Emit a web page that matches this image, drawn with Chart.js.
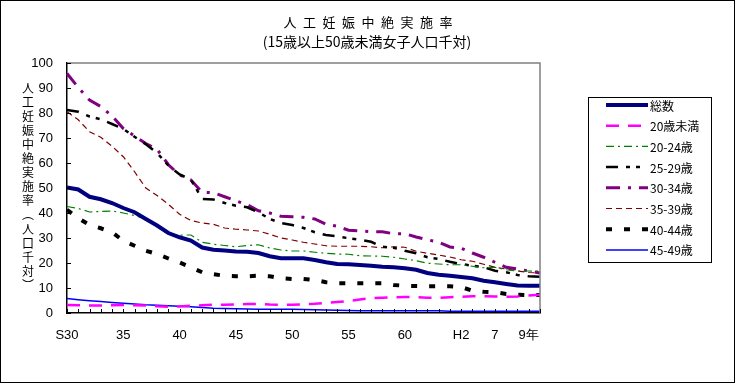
<!DOCTYPE html>
<html>
<head>
<meta charset="utf-8">
<script src="https://cdn.jsdelivr.net/npm/chart.js@4.4.0/dist/chart.umd.min.js"></script>
<style>
    body { margin: 0; background: #fff; }
</style>
</head>
<body>
<canvas id="grafAbort" width="735" height="383"></canvas>
<script>
// 年次 (S30 ~ H9)
const nendo = ['S30','S31','S32','S33','S34','S35','S36','S37','S38','S39','S40','S41','S42','S43','S44',
    'S45','S46','S47','S48','S49','S50','S51','S52','S53','S54','S55','S56','S57','S58','S59','S60',
    'S61','S62','S63','H1','H2','H3','H4','H5','H6','H7','H8','H9']

// 目盛ラベル (位置はカテゴリ番号)
const tickPos = [0, 5, 10, 15, 20, 25, 30, 35, 38, 41]
const tickTxt = ['S30', '35', '40', '45', '50', '55', '60', 'H2', '7', '9年']

const sousu  = [50.2,49.4,46.5,45.5,44.0,42.0,40.3,37.6,35.0,32.0,30.3,29.0,26.2,25.3,25.0,24.6,24.5,24.0,22.7,21.9,21.9,21.9,21.2,20.3,19.6,19.5,19.2,18.9,18.5,18.3,17.9,17.3,16.0,15.3,14.9,14.4,13.9,12.9,12.3,11.6,11.0,10.9,10.9]
const u20    = [3.2,3.1,3.0,3.0,3.1,3.2,3.1,3.0,2.7,2.5,2.6,2.9,3.1,3.3,3.3,3.4,3.6,3.6,3.4,3.3,3.3,3.5,3.7,4.0,4.4,4.8,5.4,5.9,6.1,6.3,6.4,6.3,6.1,6.1,6.3,6.5,6.7,6.7,6.6,6.5,6.6,7.0,7.3]
const a2024  = [42.6,41.8,40.4,40.6,40.8,40.0,39.0,37.5,34.5,31.5,31.2,31.2,28.3,27.5,27.0,26.5,27.0,27.3,26.0,25.2,24.8,24.8,24.3,23.9,23.6,23.5,22.9,22.8,22.7,22.3,21.6,20.9,19.9,19.6,19.3,19.3,18.7,18.1,18.3,17.3,16.8,16.8,16.7]
const a2529  = [81.2,80.5,78.6,77.5,75.6,73.6,70.5,67.5,64.0,59.0,55.4,53.4,45.6,45.4,44.0,42.9,42.3,40.3,37.6,36.0,35.2,34.0,32.3,31.2,30.7,29.9,29.3,28.5,26.5,26.1,24.9,23.9,22.3,21.6,20.5,19.6,18.9,18.3,16.9,16.3,15.2,14.7,14.5]
const a3034  = [95.8,90.2,85.2,82.6,78.8,73.8,70.8,67.8,65.5,59.3,55.2,53.2,48.3,48.1,46.5,44.9,43.3,40.9,40.0,38.7,38.5,38.3,37.6,35.5,34.7,33.1,32.8,32.5,32.5,31.7,31.7,30.4,29.3,28.3,26.4,25.9,24.0,22.3,20.3,18.3,17.6,16.8,16.0]
const a3539  = [80.5,77.3,72.5,70.3,66.7,62.5,56.5,50.0,47.0,43.5,39.5,37.0,36.0,35.5,34.0,33.5,33.2,32.8,31.5,30.0,29.2,28.3,27.6,26.9,26.7,26.7,26.7,26.5,26.1,26.5,26.3,24.7,23.9,23.2,22.4,21.3,20.7,19.5,18.3,17.6,16.8,16.2,16.0]
const a4044  = [41.3,37.9,35.2,33.9,32.3,28.9,26.9,24.9,23.6,21.8,20.2,18.3,16.3,15.5,14.9,14.7,14.7,14.9,14.7,13.9,13.6,13.6,13.2,12.3,11.9,11.9,11.9,11.9,11.9,11.2,10.9,10.8,10.7,10.7,10.7,10.4,8.9,8.5,8.3,7.6,7.3,7.2,7.2]
const a4549  = [5.8,5.3,4.9,4.6,4.2,3.9,3.6,3.3,3.1,2.9,2.7,2.5,2.2,1.9,1.8,1.7,1.6,1.5,1.5,1.5,1.5,1.4,1.3,1.2,1.1,1.0,0.9,0.9,0.9,0.9,0.9,0.9,0.9,0.9,0.7,0.7,0.7,0.7,0.7,0.7,0.7,0.7,0.7]

const nomes = ['総数', '20歳未満', '20-24歳', '25-29歳', '30-34歳', '35-39歳', '40-44歳', '45-49歳']

const fonteNum = '"Liberation Sans", Arial, sans-serif'
const fonteJp = '"Noto Sans CJK JP", sans-serif'

function serie(label, data, cor, largura, traco) {
    return {
        label: label,
        data: data,
        borderColor: cor,
        backgroundColor: cor,
        borderWidth: largura,
        borderDash: traco,
        pointRadius: 0,
        tension: 0,
        fill: false
    }
}

// titulo, legenda e detalhes do eixo
const extras = {
    id: 'extras',
    beforeDraw(chart) {
        const ctx = chart.ctx
        ctx.save()
        ctx.fillStyle = '#fff'
        ctx.fillRect(0, 0, chart.width, chart.height)
        ctx.restore()
    },
    afterDraw(chart) {
        const ctx = chart.ctx
        const a = chart.chartArea
        const sx = chart.scales.x
        const sy = chart.scales.y
        ctx.save()

        // bordas cinza (topo e direita)
        ctx.strokeStyle = '#808080'
        ctx.lineWidth = 1.5
        ctx.beginPath()
        ctx.moveTo(a.left, a.top)
        ctx.lineTo(a.right, a.top)
        ctx.lineTo(a.right, a.bottom)
        ctx.stroke()

        // marcas para dentro
        ctx.strokeStyle = '#000'
        ctx.lineWidth = 1
        ctx.beginPath()
        sx.ticks.forEach((t, i) => {
            const px = Math.round(sx.getPixelForTick(i)) + 0.5
            ctx.moveTo(px, a.bottom)
            ctx.lineTo(px, a.bottom - 4)
        })
        sy.ticks.forEach((t, i) => {
            const py = Math.round(sy.getPixelForTick(i)) + 0.5
            ctx.moveTo(a.left, py)
            ctx.lineTo(a.left + 4, py)
        })
        ctx.stroke()

        // titulo
        ctx.fillStyle = '#000'
        ctx.textAlign = 'center'
        ctx.textBaseline = 'middle'
        ctx.font = '13px ' + fonteJp
        ctx.fillText('人\u2002工\u2002妊\u2002娠\u2002中\u2002絶\u2002実\u2002施\u2002率', 368, 22)
        ctx.font = '14px ' + fonteJp
        ctx.fillText('(15歳以上50歳未満女子人口千対)', 367, 42)

        // titulo do eixo y (vertical)
        const tituloY = ['人','工','妊','娠','中','絶','実','施','率','︵','人','口','千','対','︶']
        ctx.font = '12px ' + fonteJp
        tituloY.forEach((c, i) => {
            ctx.fillText(c, 28, 88 + i * 14.1)
        })

        // legenda
        ctx.strokeStyle = '#000'
        ctx.lineWidth = 1
        ctx.setLineDash([])
        ctx.strokeRect(588.5, 97.5, 123, 165)
        ctx.textAlign = 'left'
        ctx.font = '12px ' + fonteJp
        chart.data.datasets.forEach((ds, i) => {
            const ly = 105 + i * 20.7
            ctx.save()
            ctx.strokeStyle = ds.borderColor
            ctx.lineWidth = ds.borderWidth
            ctx.setLineDash(ds.borderDash || [])
            ctx.beginPath()
            ctx.moveTo(606, ly)
            ctx.lineTo(648, ly)
            ctx.stroke()
            ctx.restore()
            ctx.fillStyle = '#000'
            ctx.fillText(ds.label, 650, ly + 1)
        })

        // moldura externa
        ctx.strokeStyle = '#000'
        ctx.lineWidth = 1
        ctx.strokeRect(0.5, 0.5, chart.width - 1, chart.height - 1)
        ctx.restore()
    }
}

const grafAbort = document.getElementById('grafAbort')

new Chart(grafAbort, {
    type: 'line',
    data: {
        labels: nendo,
        datasets: [
            serie(nomes[0], sousu, '#000080', 4, []),
            serie(nomes[1], u20, '#FF00FF', 2.5, [13, 9]),
            serie(nomes[2], a2024, '#008000', 1.2, [8, 4, 2, 4]),
            serie(nomes[3], a2529, '#000000', 2.5, [12, 8, 4, 6, 4, 8]),
            serie(nomes[4], a3034, '#800080', 3, [14, 8, 3, 8]),
            serie(nomes[5], a3539, '#800000', 1.2, [6, 4]),
            serie(nomes[6], a4044, '#000000', 4, [6, 12]),
            serie(nomes[7], a4549, '#0000FF', 1.5, [])
        ]
    },
    options: {
        responsive: false,
        animation: false,
        layout: {
            padding: { left: 0, top: 63, right: 195, bottom: 0 }
        },
        plugins: {
            legend: { display: false },
            title: { display: false },
            tooltip: { enabled: false }
        },
        scales: {
            x: {
                grid: { drawOnChartArea: false, drawTicks: false },
                border: { color: '#000', width: 1.5 },
                afterFit: (s) => { s.height = 70 },
                ticks: {
                    autoSkip: false,
                    maxRotation: 0,
                    padding: 15,
                    color: '#000',
                    font: { family: fonteNum, size: 13 },
                    callback: (v, i) => {
                        const k = tickPos.indexOf(i)
                        return k >= 0 ? tickTxt[k] : ''
                    }
                }
            },
            y: {
                min: 0,
                max: 100,
                grid: { drawOnChartArea: false, drawTicks: false },
                border: { color: '#000', width: 1.5 },
                afterFit: (s) => { s.width = 67 },
                ticks: {
                    stepSize: 10,
                    padding: 14,
                    color: '#000',
                    font: { family: fonteNum, size: 13 }
                }
            }
        }
    },
    plugins: [extras]
})
</script>
</body>
</html>
